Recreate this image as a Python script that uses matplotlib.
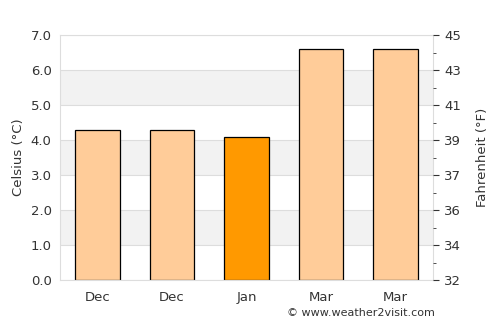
import matplotlib
matplotlib.use("Agg")
import matplotlib.pyplot as plt
from matplotlib.ticker import MultipleLocator

categories = ["Dec", "Dec", "Jan", "Mar", "Mar"]
celsius = [4.3, 4.3, 4.1, 6.6, 6.6]
highlight = [False, False, True, False, False]
c_ticks = [0, 1, 2, 3, 4, 5, 6, 7]
f_labels = ["32", "34", "36", "37", "39", "41", "43", "45"]

fig = plt.figure(figsize=(5, 3.25), dpi=100)
ax = fig.add_axes([0.12, 0.138, 0.746, 0.754])

txt = "#333333"
grid = "#dddddd"
for lo in [1, 3, 5]:
    ax.axhspan(lo, lo + 1, color="#f2f2f2", zorder=0, lw=0)
for t in c_ticks:
    ax.axhline(t, color=grid, lw=0.8, zorder=0.5)

colors = ["#ff9900" if h else "#ffcc99" for h in highlight]
x = range(len(categories))
ax.bar(x, celsius, width=0.6, color=colors, edgecolor="black", linewidth=0.9, zorder=2)

ax.set_xlim(-0.5, len(categories) - 0.5)
ax.set_ylim(0, 7)
ax.set_xticks(list(x))
ax.set_xticklabels(categories)
ax.set_yticks(c_ticks)
ax.set_yticklabels([f"{t:.1f}" for t in c_ticks])
ax.tick_params(axis="y", length=0, colors=txt, labelsize=9.5, pad=6)
ax.tick_params(axis="x", length=0, colors=txt, labelsize=9.5, pad=8)
ax.set_ylabel("Celsius (°C)", color=txt, fontsize=9.5)
for s in ax.spines.values():
    s.set_color(grid)
    s.set_linewidth(0.8)

ax2 = ax.twinx()
ax2.set_ylim(0, 7)
ax2.set_yticks(c_ticks)
ax2.set_yticklabels(f_labels)
ax2.yaxis.set_minor_locator(MultipleLocator(0.5))
ax2.tick_params(axis="y", which="major", length=4, colors=txt, labelsize=9.5, pad=4)
ax2.tick_params(axis="y", which="minor", length=2, colors=txt)
ax2.set_ylabel("Fahrenheit (°F)", color=txt, fontsize=9.5, labelpad=11)
for s in ax2.spines.values():
    s.set_visible(False)

fig.text(0.87, 0.037, "© www.weather2visit.com", ha="right", va="center", color=txt, fontsize=8)

fig.savefig("out.png", dpi=100)
